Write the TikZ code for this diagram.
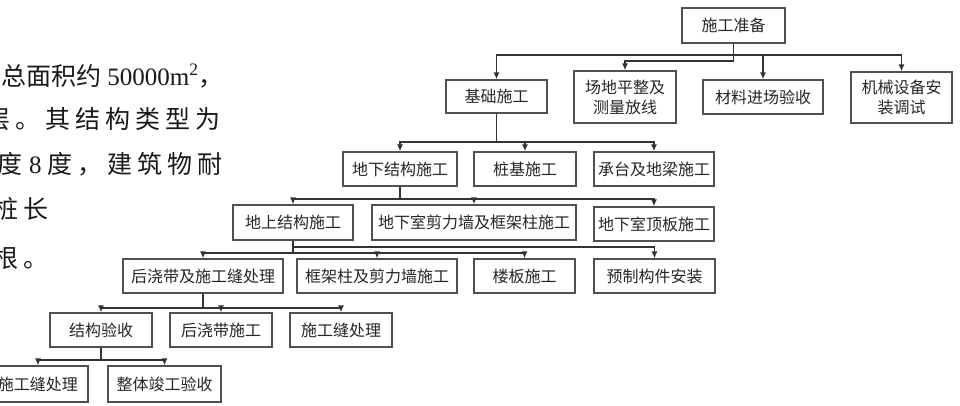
\documentclass[tikz,border=0pt]{standalone}
\usepackage{fontspec}
\setmainfont{Liberation Serif}
\newfontfamily\cjk{Noto Sans CJK SC}
\newfontfamily\cjkwide[LetterSpace=20]{Noto Sans CJK SC}
\usetikzlibrary{arrows.meta}
\definecolor{linegray}{HTML}{333333}
\definecolor{boxgray}{HTML}{505050}
\tikzset{
  box/.style = {draw=boxgray, line width=1.2pt, minimum width=#1,
                minimum height=34pt, inner sep=0pt, align=center,
                font=\cjk\fontsize{16}{20}\selectfont, text=black!85},
  box/.default = 102pt,
  body/.style = {anchor=base west, inner sep=0pt,
                 font=\fontsize{25}{25}\selectfont, text=black!90},
  link/.style = {draw=linegray, line width=1.8pt},
  arr/.style = {link, -{Latex[length=7pt,width=6pt]}}
}

\begin{document}
\begin{tikzpicture}[x=1pt, y=-1pt]
	\clip (0,0) rectangle (960,405);
	\fill[white] (0,0) rectangle (960,405);

	% Page text (cut at the left edge)
	\node[body] (t1) at (1,85) {{\cjk 总面积约} 50000m\textsuperscript{2}{\cjk ，}};
	\node[body] (t2) at (-15,128) {{\cjkwide 层。其结构类型为}};
	\node[body] (t3) at (-3,173) {{\cjkwide 度}\hspace{7pt}8\hspace{6pt}{\cjkwide 度，建筑物耐}};
	\node[body] (t4) at (-7,218) {{\cjkwide 桩长}};
	\node[body] (t5) at (-7,267) {{\cjkwide 根。}};

	% Level 0 and 1
	\node[box=103pt, minimum height=35pt] (zb) at (733.5,25.5) {施工准备};
	\node[box=101pt, minimum height=33pt] (jc) at (496.5,96.5) {基础施工};
	\node[box, minimum height=52pt] (cd) at (625,97) {场地平整及\\测量放线};
	\node[box=120pt] (cl) at (763,97) {材料进场验收};
	\node[box=101pt, minimum height=51pt] (jx) at (901.5,97.5) {机械设备安\\装调试};

	% Level 2
	\node[box=114pt] (dxjg) at (400,169) {地下结构施工};
	\node[box] (zj) at (525,169) {桩基施工};
	\node[box=120pt] (ct) at (654,169) {承台及地梁施工};

	% Level 3
	\node[box=120pt, minimum height=35pt] (dsjg) at (293,222.5) {地上结构施工};
	\node[box=204pt, minimum height=35pt] (jlq) at (474,222.5) {地下室剪力墙及框架柱施工};
	\node[box=120pt] (db) at (654,224) {地下室顶板施工};

	% Level 4
	\node[box=160pt] (hjd) at (203,276) {后浇带及施工缝处理};
	\node[box=160pt] (kjz) at (377,276) {框架柱及剪力墙施工};
	\node[box=101pt] (lb) at (524.5,276) {楼板施工};
	\node[box=121pt] (yz) at (654.5,276) {预制构件安装};

	% Level 5
	\node[box] (jgys) at (101,330) {结构验收};
	\node[box] (hjdsg) at (221,330) {后浇带施工};
	\node[box] (sgf) at (341,330) {施工缝处理};

	% Level 6
	\node[box=100pt, minimum height=36pt] (sgfb) at (38,384) {施工缝处理};
	\node[box=113pt, minimum height=36pt] (ztys) at (164.5,384) {整体竣工验收};

	% Connectors
	\draw[link] (zb.south) -- ++(0,11) coordinate (b1);
	\draw[arr] (b1) -| (jc.north);
	\draw[arr] (b1) -| (jx.north);
	\draw[arr] (b1 -| cl.north) -- (cl.north);
	\draw[arr] (zb.south) -- ++(0,17) -| (cd.north);

	\draw[link] (jc.south) -- ++(0,28) coordinate (b2);
	\draw[arr] (b2) -| (dxjg.north);
	\draw[arr] (b2) -| (ct.north);
	\draw[arr] (b2 -| zj.north) -- (zj.north);

	\draw[link] (dxjg.south) -- ++(0,12) coordinate (b3);
	\draw[arr] (b3) -| (dsjg.north);
	\draw[arr] (b3) -| (db.north);
	\draw[arr] (b3 -| jlq.north) -- (jlq.north);

	\draw[link] (dsjg.south) -- ++(0,6) coordinate (b4u) -- ++(0,6) coordinate (b4);
	\draw[arr] (b4u) -| (yz.north);
	\draw[arr] (b4) -| (hjd.north);
	\draw[arr] (b4) -| (lb.north);
	\draw[arr] (b4 -| kjz.north) -- (kjz.north);

	\draw[link] (hjd.south) -- ++(0,14) coordinate (b5);
	\draw[arr] (b5) -| (jgys.north);
	\draw[arr] (b5) -| (sgf.north);
	\draw[arr] (b5 -| hjdsg.north) -- (hjdsg.north);

	\draw[link] (jgys.south) -- ++(0,12) coordinate (b6);
	\draw[arr] (b6) -| (sgfb.north);
	\draw[arr] (b6) -| (ztys.north);
\end{tikzpicture}
\end{document}
